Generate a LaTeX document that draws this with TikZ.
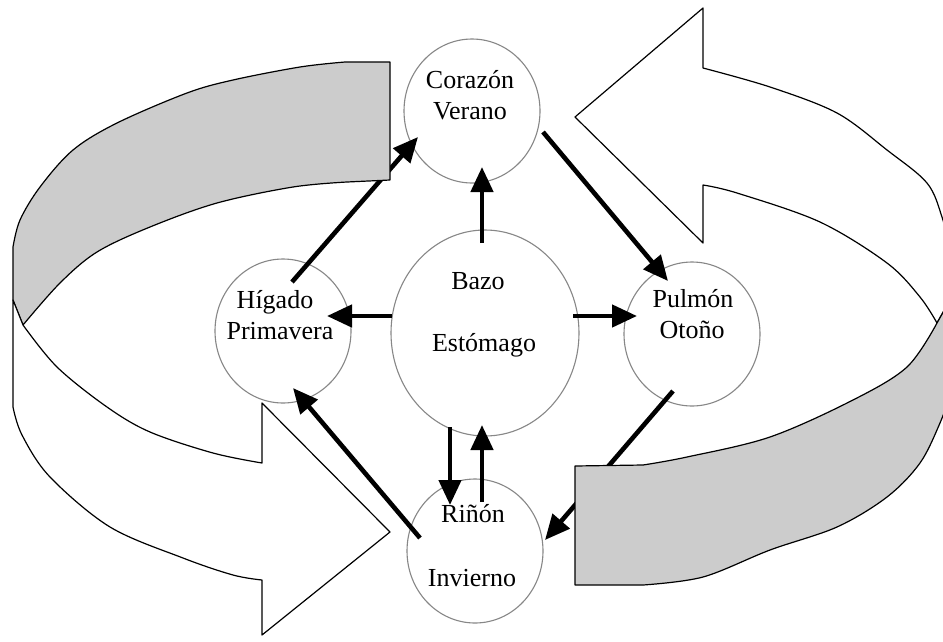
\documentclass[tikz,border=0pt]{standalone}
\usepackage{fontspec}
\setmainfont{Liberation Serif}
\usetikzlibrary{arrows.meta,shapes.geometric,calc}
\definecolor{bandgray}{RGB}{204,204,204}
\definecolor{ringgray}{RGB}{135,135,135}
\begin{document}
\begin{tikzpicture}[x=1pt,y=-1pt,
  organ/.style={ellipse,draw=ringgray,line width=1.1pt,minimum width=136pt,minimum height=144pt,inner sep=0pt},
  bigorgan/.style={organ,minimum width=188pt,minimum height=206pt},
  lbl/.style={font=\fontsize{26}{28}\selectfont,inner sep=0pt,anchor=base},
  flow/.style={line width=4.6pt,-{Triangle[length=25pt,width=22pt]}},
  ribbon/.style={draw=black,line width=1.2pt,line join=round}]
\fill[white] (0,0) rectangle (943,641);
\useasboundingbox (0,0) rectangle (943,641);

% organ circles
\node[organ] (cor) at (472,111) {};
\node[bigorgan] (baz) at (485,333) {};
\node[organ] (hig) at (283,331) {};
\node[organ] (pul) at (692,334) {};
\node[organ] (rin) at (475,551) {};

% labels
\node[lbl] (corA) at (470,88) {Corazón};
\node[lbl] (corB) at (470,119) {Verano};
\node[lbl] (bazA) at (478,289) {Bazo};
\node[lbl] (bazB) at (484,351) {Estómago};
\node[lbl] (higA) at (275,308) {Hígado};
\node[lbl] (higB) at (280,339) {Primavera};
\node[lbl] (pulA) at (693,307) {Pulmón};
\node[lbl] (pulB) at (692,338) {Otoño};
\node[lbl] (rinA) at (473,522) {Riñón};
\node[lbl] (rinB) at (472,586) {Invierno};

% cycle arrows
\draw[flow] ($(hig)+(9,-49)$) -- ($(cor)+(-54,26)$);
\draw[flow] ($(cor)+(71,21)$) -- ($(pul)+(-24,-53)$);
\draw[flow] ($(pul)+(-19,57)$) -- ($(rin)+(70,-11)$);
\draw[flow] ($(rin)+(-55,-13)$) -- ($(hig)+(10,57)$);
% center arrows
\draw[flow] ($(baz)+(-3,-90)$) -- ($(cor)+(10,56)$);
\draw[flow] ($(baz)+(-93,-17)$) -- ($(hig)+(44,-15)$);
\draw[flow] ($(baz)+(88,-17)$) -- ($(pul)+(-55,-18)$);
\draw[flow] ($(baz)+(-35,94)$) -- ($(rin)+(-25,-46)$);
\draw[flow] ($(rin)+(7,-49)$) -- ($(baz)+(-3,92)$);

% left ribbon arrow
\draw[ribbon,fill=bandgray] (390,62) -- (345,62)
  -- plot[smooth,tension=0.55] coordinates {(345,62) (300,67) (233,80) (187,93) (117,123) (73,150) (40,187) (20,220) (13,247)}
  -- (13,300) -- (23,325)
  -- plot[smooth,tension=0.55] coordinates {(23,325) (60,283) (97,252) (150,227) (217,203) (293,187) (347,182)}
  -- (390,180) -- cycle;
\draw[ribbon,fill=white] (23,325)
  -- plot[smooth,tension=0.55] coordinates {(23,325) (57,367) (107,407) (150,432) (213,453) (262,463)}
  -- (262,403) -- (390,532) -- (262,635) -- (262,580)
  -- plot[smooth,tension=0.55] coordinates {(262,580) (233,575) (183,558) (110,527) (50,477) (22,435) (13,407)}
  -- (13,300) -- cycle;

% right ribbon arrow
\draw[ribbon,fill=white] (575,117) -- (703,8) -- (703,68)
  -- plot[smooth,tension=0.55] coordinates {(703,68) (770,87) (837,113) (887,150) (927,183) (942,217) (950,250)}
  -- (950,300) -- (937,323)
  -- plot[smooth,tension=0.55] coordinates {(937,323) (920,297) (887,263) (820,222) (737,193) (703,185)}
  -- (703,243) -- cycle;
\draw[ribbon,fill=bandgray] (937,323)
  -- plot[smooth,tension=0.55] coordinates {(937,323) (907,367) (853,400) (770,437) (687,457) (643,465)}
  -- (575,466) -- (575,585) -- (643,585)
  -- plot[smooth,tension=0.55] coordinates {(643,585) (703,577) (770,550) (837,527) (887,497) (920,463) (940,423) (950,395)}
  -- (950,300) -- cycle;
\end{tikzpicture}
\end{document}
